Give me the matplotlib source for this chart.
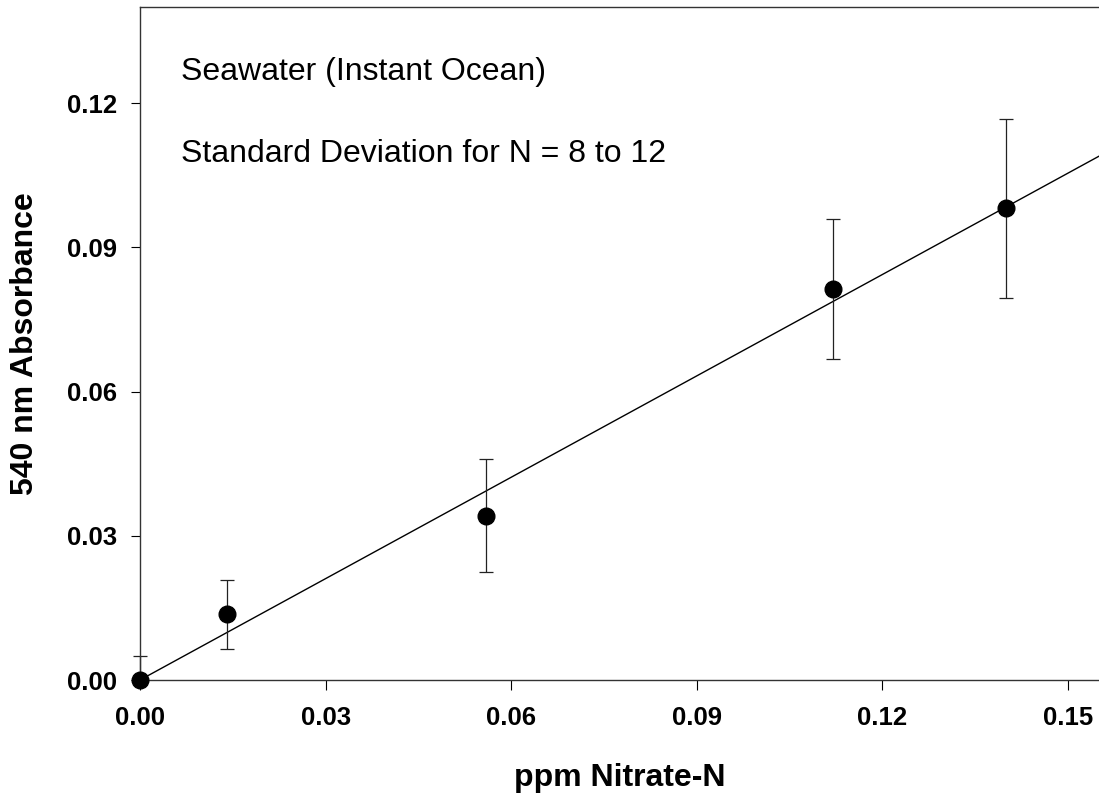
import matplotlib
matplotlib.use("Agg")
import matplotlib.pyplot as plt
import numpy as np
from matplotlib.transforms import Bbox, TransformedBbox
from matplotlib.ticker import FormatStrFormatter

# Data
nitrate_ppm = [0.0, 0.014, 0.056, 0.112, 0.140]
absorbance = [0.0, 0.0137, 0.0342, 0.0813, 0.0981]
std_dev = [0.0049, 0.0072, 0.0118, 0.0146, 0.0186]
fit_slope = 0.703
fit_intercept = 0.0
x_ticks = [0.00, 0.03, 0.06, 0.09, 0.12, 0.15]
y_ticks = [0.00, 0.03, 0.06, 0.09, 0.12]
xlim = (0.0, 0.155)
ylim = (0.0, 0.14)
annot_lines = ["Seawater (Instant Ocean)", "Standard Deviation for N = 8 to 12"]
xlabel = "ppm Nitrate-N"
ylabel = "540 nm Absorbance"

plt.rcParams['font.family'] = ['Liberation Sans', 'DejaVu Sans']

W, H = 1099, 795
fig = plt.figure(figsize=(W / 100, H / 100), dpi=100)
ax = fig.add_axes([140 / W, (H - 680) / H, (W - 140) / W, (680 - 7) / H])

ax.set_xlim(*xlim)
ax.set_ylim(*ylim)

# regression line
xs = np.array(xlim)
ax.plot(xs, fit_slope * xs + fit_intercept, color='black', lw=1.0)

# error bars (clipped vertically to the axes, not horizontally)
eb = ax.errorbar(nitrate_ppm, absorbance, yerr=std_dev, fmt='none',
                 ecolor='#222222', elinewidth=0.9, capsize=5, capthick=0.9)
clipbox = TransformedBbox(Bbox([[-0.1, 0.0], [1.1, 1.0]]), ax.transAxes)
for art in list(eb.lines[1]) + list(eb.lines[2]):
    art.set_clip_box(clipbox)

# markers
ax.plot(nitrate_ppm, absorbance, 'o', color='black', ms=12, clip_on=False, zorder=5)

# spines
ax.spines['right'].set_visible(False)
for s in ['left', 'top', 'bottom']:
    ax.spines[s].set_linewidth(1.0)
    ax.spines[s].set_color('#333333')

ax.set_xticks(x_ticks)
ax.set_yticks(y_ticks)
ax.xaxis.set_major_formatter(FormatStrFormatter('%.2f'))
ax.yaxis.set_major_formatter(FormatStrFormatter('%.2f'))
ax.tick_params(axis='x', direction='out', length=7, width=0.8, pad=12, labelsize=18.5)
ax.tick_params(axis='y', direction='out', length=6.5, width=0.8, pad=10, labelsize=18.5)
for lab in ax.get_xticklabels() + ax.get_yticklabels():
    lab.set_fontweight('bold')

ax.set_xlabel(xlabel, fontsize=23, fontweight='bold', va='top')
ax.xaxis.set_label_coords(0.5, (680 - 763) / 673)
ax.set_ylabel(ylabel, fontsize=23, fontweight='bold')
ax.yaxis.set_label_coords((40 - 140) / 959, 0.5)

ax.text((181 - 140) / 959, (680 - 80) / 673, annot_lines[0], transform=ax.transAxes,
        fontsize=23, va='baseline', ha='left')
ax.text((181 - 140) / 959, (680 - 162) / 673, annot_lines[1], transform=ax.transAxes,
        fontsize=23, va='baseline', ha='left')

fig.savefig('out.png', dpi=100)
